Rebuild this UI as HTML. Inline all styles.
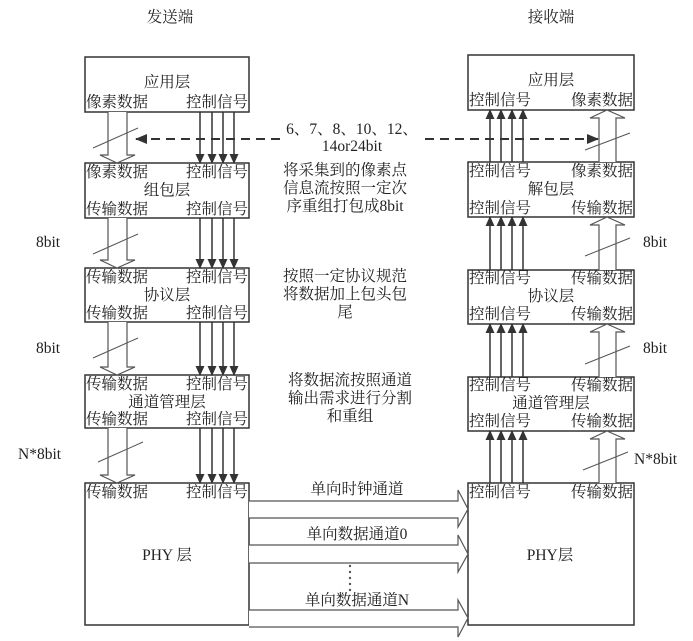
<!DOCTYPE html>
<html><head><meta charset="utf-8"><style>
html,body{margin:0;padding:0;background:#fff}
svg{display:block}
text{font-family:"Liberation Serif","Noto Serif CJK SC","Noto Sans CJK SC",serif;font-size:15.5px;fill:#222}
</style></head><body>
<svg width="693" height="641" viewBox="0 0 693 641" xmlns="http://www.w3.org/2000/svg">
<defs>
<marker id="ah" markerWidth="10" markerHeight="10" refX="9" refY="5" orient="auto" markerUnits="userSpaceOnUse"><path d="M0,0.5 L10,5 L0,9.5 z" fill="#333"/></marker>
<marker id="ad" markerWidth="12" markerHeight="10" refX="11" refY="5" orient="auto" markerUnits="userSpaceOnUse"><path d="M0,0 L12,5 L0,10 z" fill="#333"/></marker>
</defs>
<g stroke="#333" fill="none" stroke-width="1.5">
<rect x="85" y="57" width="164" height="55"/>
<rect x="85" y="163" width="164" height="55"/>
<rect x="85" y="268" width="164" height="54"/>
<rect x="85" y="375" width="164" height="53"/>
<rect x="85" y="483" width="164" height="142"/>
<rect x="468" y="55" width="166" height="55"/>
<rect x="468" y="162" width="166" height="55"/>
<rect x="468" y="270" width="166" height="54"/>
<rect x="468" y="377" width="166" height="54"/>
<rect x="468" y="483" width="166" height="142"/>
</g>
<g stroke="#555" fill="#fff" stroke-width="1.2">
<polyline points="108,112 108,155 100,155 117,163 135,155 127,155 127,112"/>
<polyline points="108,218 108,260 100,260 117,268 135,260 127,260 127,218"/>
<polyline points="108,322 108,367 100,367 117,375 135,367 127,367 127,322"/>
<polyline points="108,428 108,475 100,475 117,483 135,475 127,475 127,428"/>
<polyline points="599,162 599,118 590,118 607,110 625,118 616,118 616,162"/>
<polyline points="599,270 599,225 590,225 607,217 625,225 616,225 616,270"/>
<polyline points="599,377 599,332 590,332 607,324 625,332 616,332 616,377"/>
<polyline points="599,483 599,439 590,439 607,431 625,439 616,439 616,483"/>
<polyline points="249,501 458,501 458,490 468,509 458,527 458,518 249,518"/>
<polyline points="249,545 458,545 458,535 468,554 458,572 458,563 249,563"/>
<polyline points="249,610 458,610 458,600 468,618 458,637 458,627 249,627"/>
</g>
<g stroke="#555" stroke-width="1">
<line x1="93" y1="148" x2="138" y2="128"/>
<line x1="93" y1="254" x2="138" y2="234"/>
<line x1="93" y1="358" x2="138" y2="338"/>
<line x1="98" y1="462" x2="143" y2="442"/>
<line x1="585" y1="150" x2="630" y2="133"/>
<line x1="585" y1="256" x2="630" y2="238"/>
<line x1="585" y1="364" x2="630" y2="346"/>
<line x1="583" y1="470" x2="628" y2="452"/>
</g>
<g stroke="#333" stroke-width="1.5" marker-end="url(#ah)">
<line x1="200" y1="112" x2="200" y2="163"/><line x1="212" y1="112" x2="212" y2="163"/><line x1="223" y1="112" x2="223" y2="163"/><line x1="234" y1="112" x2="234" y2="163"/>
<line x1="200" y1="218" x2="200" y2="268"/><line x1="212" y1="218" x2="212" y2="268"/><line x1="223" y1="218" x2="223" y2="268"/><line x1="234" y1="218" x2="234" y2="268"/>
<line x1="200" y1="322" x2="200" y2="375"/><line x1="212" y1="322" x2="212" y2="375"/><line x1="223" y1="322" x2="223" y2="375"/><line x1="234" y1="322" x2="234" y2="375"/>
<line x1="200" y1="428" x2="200" y2="483"/><line x1="212" y1="428" x2="212" y2="483"/><line x1="223" y1="428" x2="223" y2="483"/><line x1="234" y1="428" x2="234" y2="483"/>
<line x1="490" y1="162" x2="490" y2="110"/><line x1="501" y1="162" x2="501" y2="110"/><line x1="512" y1="162" x2="512" y2="110"/><line x1="523" y1="162" x2="523" y2="110"/>
<line x1="490" y1="270" x2="490" y2="217"/><line x1="501" y1="270" x2="501" y2="217"/><line x1="512" y1="270" x2="512" y2="217"/><line x1="523" y1="270" x2="523" y2="217"/>
<line x1="490" y1="377" x2="490" y2="324"/><line x1="501" y1="377" x2="501" y2="324"/><line x1="512" y1="377" x2="512" y2="324"/><line x1="523" y1="377" x2="523" y2="324"/>
<line x1="490" y1="483" x2="490" y2="431"/><line x1="501" y1="483" x2="501" y2="431"/><line x1="512" y1="483" x2="512" y2="431"/><line x1="523" y1="483" x2="523" y2="431"/>
</g>
<g stroke="#333" stroke-width="2" stroke-dasharray="9,6" fill="none">
<line x1="280" y1="139" x2="136" y2="139" marker-end="url(#ad)"/>
<line x1="425" y1="139" x2="598" y2="139" marker-end="url(#ad)"/>
</g>
<g fill="#555">
<circle cx="350" cy="566" r="1.2"/><circle cx="350" cy="572" r="1.2"/><circle cx="350" cy="578" r="1.2"/><circle cx="350" cy="584" r="1.2"/><circle cx="350" cy="590" r="1.2"/>
</g>
<text x="170" y="22" text-anchor="middle">发送端</text>
<text x="551" y="22" text-anchor="middle">接收端</text>
<text x="167" y="87" text-anchor="middle">应用层</text>
<text x="86" y="107">像素数据</text><text x="248" y="107" text-anchor="end">控制信号</text>
<text x="86" y="177">像素数据</text><text x="248" y="177" text-anchor="end">控制信号</text>
<text x="167" y="195" text-anchor="middle">组包层</text>
<text x="86" y="214">传输数据</text><text x="248" y="214" text-anchor="end">控制信号</text>
<text x="86" y="282">传输数据</text><text x="248" y="282" text-anchor="end">控制信号</text>
<text x="167" y="300" text-anchor="middle">协议层</text>
<text x="86" y="318">传输数据</text><text x="248" y="318" text-anchor="end">控制信号</text>
<text x="86" y="389">传输数据</text><text x="248" y="389" text-anchor="end">控制信号</text>
<text x="167" y="407" text-anchor="middle">通道管理层</text>
<text x="86" y="424">传输数据</text><text x="248" y="424" text-anchor="end">控制信号</text>
<text x="86" y="497">传输数据</text><text x="248" y="497" text-anchor="end">控制信号</text>
<text x="167" y="560" text-anchor="middle">PHY 层</text>
<text x="551" y="85" text-anchor="middle">应用层</text>
<text x="469" y="105">控制信号</text><text x="633" y="105" text-anchor="end">像素数据</text>
<text x="469" y="176">控制信号</text><text x="633" y="176" text-anchor="end">像素数据</text>
<text x="551" y="194" text-anchor="middle">解包层</text>
<text x="469" y="213">控制信号</text><text x="633" y="213" text-anchor="end">传输数据</text>
<text x="469" y="283">控制信号</text><text x="633" y="283" text-anchor="end">传输数据</text>
<text x="551" y="301" text-anchor="middle">协议层</text>
<text x="469" y="319">控制信号</text><text x="633" y="319" text-anchor="end">传输数据</text>
<text x="469" y="390">控制信号</text><text x="633" y="390" text-anchor="end">传输数据</text>
<text x="551" y="408" text-anchor="middle">通道管理层</text>
<text x="469" y="426">控制信号</text><text x="633" y="426" text-anchor="end">传输数据</text>
<text x="469" y="497">控制信号</text><text x="633" y="497" text-anchor="end">传输数据</text>
<text x="550" y="560" text-anchor="middle">PHY层</text>
<text x="36" y="247">8bit</text>
<text x="36" y="353">8bit</text>
<text x="18" y="459">N*8bit</text>
<text x="643" y="247">8bit</text>
<text x="643" y="353">8bit</text>
<text x="634" y="464">N*8bit</text>
<text x="352" y="134" text-anchor="middle">6、7、8、10、12、</text>
<text x="352" y="151" text-anchor="middle">14or24bit</text>
<text x="345" y="175" text-anchor="middle">将采集到的像素点</text>
<text x="345" y="193" text-anchor="middle">信息流按照一定次</text>
<text x="345" y="211" text-anchor="middle">序重组打包成8bit</text>
<text x="345" y="281" text-anchor="middle">按照一定协议规范</text>
<text x="345" y="299" text-anchor="middle">将数据加上包头包</text>
<text x="345" y="317" text-anchor="middle">尾</text>
<text x="350" y="385" text-anchor="middle">将数据流按照通道</text>
<text x="350" y="403" text-anchor="middle">输出需求进行分割</text>
<text x="350" y="421" text-anchor="middle">和重组</text>
<text x="357" y="494" text-anchor="middle">单向时钟通道</text>
<text x="357" y="539" text-anchor="middle">单向数据通道0</text>
<text x="357" y="605" text-anchor="middle">单向数据通道N</text>
</svg>
</body></html>
